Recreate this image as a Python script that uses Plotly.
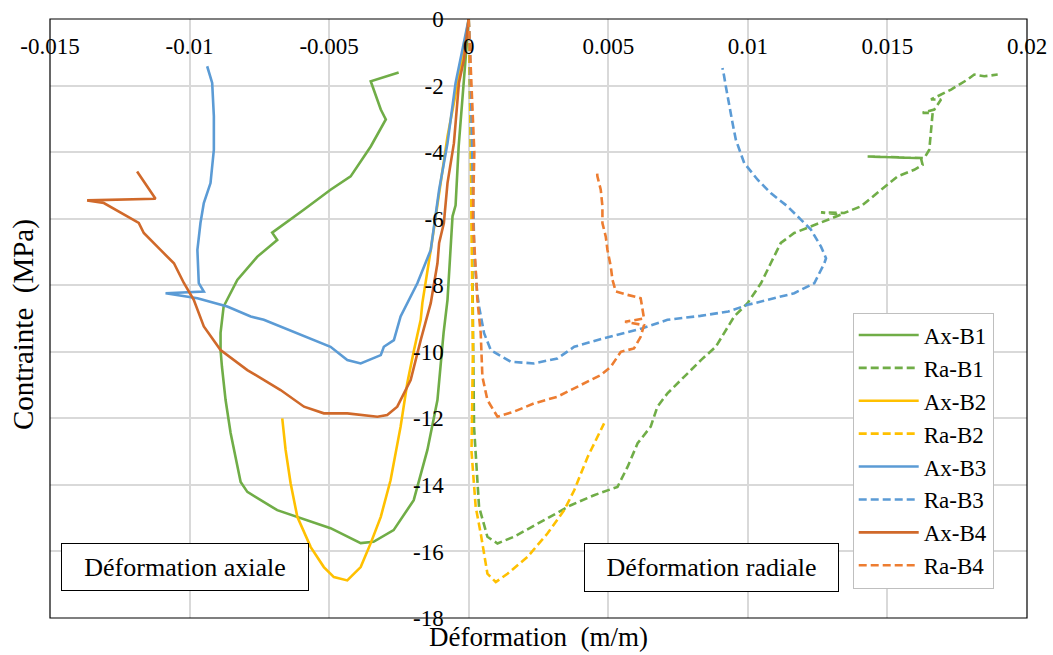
import plotly.graph_objects as go

# ---------------- data (strain in 1e-3 m/m, stress in MPa) ----------------
ax_b1_strain_milli = [0, -0.18, -0.36, -0.47, -0.58, -0.76, -0.9, -1.12, -1.48, -1.97, -2.69, -3.41, -3.87,
                      -4.95, -6.86, -7.93, -8.17, -8.53, -8.71, -8.84, -8.89, -8.89, -8.78, -8.29, -7.57,
                      -6.86, -7.04, -5.91, -4.95, -4.23, -3.51, -2.97, -3.15, -3.51, -2.51]
ax_b1_stress = [0, -1.91, -3.83, -5.6, -5.93, -8.44, -9.43, -11.45, -12.95, -14.46, -15.36, -15.71, -15.75,
                -15.3, -14.76, -14.21, -13.91, -12.44, -11.45, -10.45, -9.95, -9.43, -8.64, -7.84, -7.14,
                -6.64, -6.42, -5.73, -5.13, -4.73, -3.83, -3.02, -2.72, -1.87, -1.61]

ra_b1_strain_milli = [0, 0.05, 0.1, 0.15, 0.19, 0.37, 0.67, 1.03, 1.62, 2.7, 3.66, 4.49, 5.33, 5.69, 6.05,
                      6.52, 6.76, 7.12, 7.72, 8.32, 8.85, 9.51, 9.99, 10.47, 10.82, 11.18, 11.66, 12.26, 12.85,
                      13.33, 12.62, 13.45, 14.05, 14.77, 15.36, 15.96, 16.26, 16.2, 14.29, 16.32, 16.5, 16.56,
                      16.62, 16.26, 16.68, 16.92, 16.56, 17.28, 17.87, 18.11, 18.47, 18.95]
ra_b1_stress = [0, -2, -5, -9, -12.25, -14.66, -15.56, -15.76, -15.56, -15.06, -14.61, -14.31, -14.06, -13.46,
                -12.75, -12.25, -11.65, -11.25, -10.75, -10.25, -9.85, -8.94, -8.54, -7.94, -7.34, -6.73,
                -6.43, -6.24, -6.03, -5.88, -5.81, -5.83, -5.63, -5.13, -4.73, -4.53, -4.38, -4.18, -4.13,
                -4.18, -3.93, -3.42, -2.82, -2.82, -2.72, -2.42, -2.42, -2.12, -1.82, -1.67, -1.72, -1.67]

ax_b2_strain_milli = [0, -0.3, -0.76, -1.1, -1.36, -1.66, -1.72, -1.96, -2.2, -2.44, -2.8, -3.15, -3.51, -3.87,
                      -4.35, -4.83, -5.19, -5.66, -6.14, -6.38, -6.56, -6.68]
ax_b2_stress = [0, -1.5, -3.53, -5.5, -6.94, -8.53, -9.04, -9.95, -10.94, -12.25, -13.86, -14.96, -15.75,
                -16.47, -16.87, -16.77, -16.47, -15.87, -14.96, -13.95, -12.95, -12.0]

ra_b2_strain_milli = [0, 0.05, 0.1, 0.15, 0.1, 0.19, 0.25, 0.43, 0.67, 0.97, 1.39, 2.1, 2.82, 3.42, 3.78,
                      4.26, 4.85]
ra_b2_stress = [0, -2, -6, -10, -13.0, -13.86, -14.66, -15.46, -16.67, -16.92, -16.67, -16.17, -15.46,
                -14.76, -14.16, -13.16, -12.15]

ax_b3_strain_milli = [0, -0.47, -0.76, -1.06, -1.36, -1.84, -2.44, -2.68, -3.04, -3.15, -3.87, -4.35, -4.95,
                      -6.14, -7.34, -7.81, -8.65, -9.72, -10.86, -9.49, -9.67, -9.72, -9.61, -9.49, -9.25,
                      -9.13, -9.13, -9.19, -9.37]
ax_b3_stress = [0, -1.92, -3.73, -5.13, -6.94, -7.94, -8.94, -9.65, -9.85, -10.1, -10.35, -10.25, -9.85,
                -9.44, -9.04, -8.94, -8.64, -8.39, -8.24, -8.19, -7.94, -6.94, -6.13, -5.53, -4.93, -3.93,
                -2.92, -1.92, -1.42]

ra_b3_strain_milli = [0, 0.05, 0.1, 0.15, 0.2, 0.3, 0.37, 0.55, 0.79, 1.51, 2.34, 3.18, 3.78, 4.85, 6.2,
                      7.12, 8.3, 9.3, 9.99, 11.66, 12.38, 12.74, 12.8, 12.62, 12.26, 11.9, 11.42, 10.82,
                      10.35, 9.87, 9.75, 9.57, 9.45, 9.33, 9.21, 9.15, 9.09]
ra_b3_stress = [0, -1, -3, -5, -7, -8.2, -8.64, -9.44, -9.95, -10.3, -10.35, -10.2, -9.85, -9.59, -9.3,
                -9.04, -8.92, -8.79, -8.59, -8.24, -7.94, -7.34, -7.19, -6.84, -6.33, -6.03, -5.63, -5.23,
                -4.83, -4.33, -4.03, -3.63, -3.12, -2.62, -2.02, -1.72, -1.47]

ax_b4_strain_milli = [0, -0.17, -0.35, -0.53, -0.76, -0.89, -1.06, -1.12, -1.36, -1.72, -2.08, -2.56, -2.92,
                      -3.27, -4.35, -5.19, -5.9, -6.74, -7.93, -8.89, -9.49, -9.85, -10.2, -10.56, -11.04,
                      -11.64, -11.82, -12.47, -13.07, -13.67, -11.22, -11.88]
ax_b4_stress = [0, -1.22, -1.92, -3.73, -4.93, -6.13, -6.73, -7.34, -8.54, -9.65, -10.85, -11.65, -11.9,
                -11.95, -11.85, -11.85, -11.65, -11.15, -10.55, -9.95, -9.24, -8.44, -7.94, -7.34, -6.94,
                -6.43, -6.13, -5.83, -5.53, -5.45, -5.40, -4.58]

ra_b4_strain_milli = [0, 0.1, 0.2, 0.15, 0.25, 0.31, 0.43, 0.49, 0.67, 1.03, 1.62, 2.34, 3.18, 4.01, 4.73,
                      5.09, 5.45, 5.92, 6.16, 6.28, 5.6, 6.28, 6.22, 6.16, 5.69, 5.27, 5.15, 5.09, 4.97, 4.91,
                      4.79, 4.79, 4.73, 4.61, 4.59]
ra_b4_stress = [0, -2, -4, -6, -7.5, -8.44, -9.44, -10.75, -11.45, -11.95, -11.8, -11.55, -11.35, -11.0,
                -10.7, -10.45, -10.0, -9.9, -9.55, -9.2, -9.1, -9.0, -8.74, -8.39, -8.29, -8.19, -7.84,
                -7.44, -6.94, -6.54, -6.13, -5.63, -5.13, -4.73, -4.53]

series_names = ["Ax-B1", "Ra-B1", "Ax-B2", "Ra-B2", "Ax-B3", "Ra-B3", "Ax-B4", "Ra-B4"]

x_tick_vals = [-0.015, -0.01, -0.005, 0, 0.005, 0.01, 0.015, 0.02]
x_tick_text = ["-0.015", "-0.01", "-0.005", "0", "0.005", "0.01", "0.015", "0.02"]
y_tick_vals = [0, -2, -4, -6, -8, -10, -12, -14, -16, -18]
y_tick_text = ["0", "-2", "-4", "-6", "-8", "-10", "-12", "-14", "-16", "-18"]

# ---------------- styling ----------------
GREEN, YELLOW, BLUE, BROWN, ORANGE = "#70AD47", "#FFC000", "#5B9BD5", "#D0692A", "#ED7D31"
FONT = "Liberation Serif, Times New Roman, DejaVu Serif, serif"
DASH = "8px,4px"

series = [
    (ax_b1_strain_milli, ax_b1_stress, GREEN, "solid"),
    (ra_b1_strain_milli, ra_b1_stress, GREEN, DASH),
    (ax_b2_strain_milli, ax_b2_stress, YELLOW, "solid"),
    (ra_b2_strain_milli, ra_b2_stress, YELLOW, DASH),
    (ax_b3_strain_milli, ax_b3_stress, BLUE, "solid"),
    (ra_b3_strain_milli, ra_b3_stress, BLUE, DASH),
    (ax_b4_strain_milli, ax_b4_stress, BROWN, "solid"),
    (ra_b4_strain_milli, ra_b4_stress, ORANGE, DASH),
]

fig = go.Figure()
for name, (xs, ys, col, dash) in zip(series_names, series):
    fig.add_trace(go.Scatter(
        x=[v / 1000 for v in xs], y=ys, mode="lines", name=name,
        legendgroup=name,
        line=dict(color=col, width=2.6, dash=dash),
    ))

fig.update_layout(
    width=1053, height=655,
    margin=dict(l=50, r=26, t=19, b=37),
    paper_bgcolor="white", plot_bgcolor="white",
    font=dict(family=FONT, size=23, color="black"),
    showlegend=True,
    legend=dict(
        x=0.8216, y=0.51, xanchor="left", yanchor="top",
        bgcolor="white", bordercolor="#BFBFBF", borderwidth=1,
        font=dict(family=FONT, size=23, color="black"),
        tracegroupgap=0, itemwidth=60,
    ),
    xaxis=dict(
        range=[-0.015, 0.02], tickmode="array", tickvals=x_tick_vals, ticktext=x_tick_text,
        anchor="free", position=1, side="bottom", ticks="",
        showgrid=True, gridcolor="#D9D9D9", gridwidth=1.5,
        zeroline=True, zerolinecolor="#D9D9D9", zerolinewidth=1.5,
        showline=False, ticklabelstandoff=11, automargin=False,
        tickfont=dict(family=FONT, size=23, color="black"),
    ),
    yaxis=dict(
        range=[-18, 0], tickmode="array", tickvals=y_tick_vals, ticktext=y_tick_text,
        anchor="free", position=3 / 7, ticks="",
        showgrid=True, gridcolor="#D9D9D9", gridwidth=1.5,
        zeroline=False, showline=False, ticklabelstandoff=25, automargin=False,
        tickfont=dict(family=FONT, size=23, color="black"),
    ),
    shapes=[dict(type="rect", xref="paper", yref="paper", x0=0, x1=1, y0=0, y1=1,
                 line=dict(color="black", width=1.2), layer="above")],
    annotations=[
        dict(text="Déformation\u00a0 (m/m)", xref="paper", yref="paper", x=0.5, y=-0.032,
             xanchor="center", yanchor="middle", showarrow=False, font=dict(family=FONT, size=27)),
        dict(text="Contrainte\u00a0 (MPa)", xref="paper", yref="paper", x=-0.0276, y=0.489,
             xanchor="center", yanchor="middle", textangle=-90, showarrow=False,
             font=dict(family=FONT, size=29)),
        dict(text="Déformation axiale", xref="paper", yref="paper", x=0.1382, y=0.0848,
             xanchor="center", yanchor="middle", showarrow=False, width=246, height=46,
             bgcolor="white", bordercolor="black", borderwidth=1, borderpad=0,
             font=dict(family=FONT, size=26)),
        dict(text="Déformation radiale", xref="paper", yref="paper", x=0.677, y=0.0848,
             xanchor="center", yanchor="middle", showarrow=False, width=253, height=47,
             bgcolor="white", bordercolor="black", borderwidth=1, borderpad=0,
             font=dict(family=FONT, size=26)),
    ],
)

fig.write_html(
    "out.html",
    config={"displayModeBar": False},
    post_script="document.body.style.margin='0';document.body.style.overflow='hidden';",
)
